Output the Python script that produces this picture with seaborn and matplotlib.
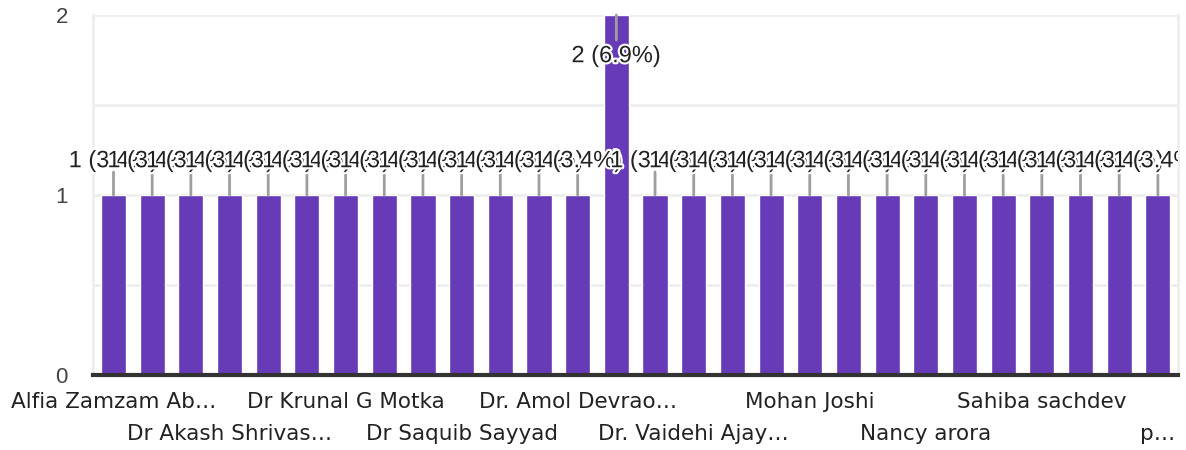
import matplotlib
matplotlib.use("Agg")
import matplotlib.pyplot as plt
import matplotlib.patheffects as pe
from matplotlib.patches import Rectangle
import pandas as pd
import seaborn as sns

sns.set_theme(style="white")
plt.rcParams["font.family"] = ["Liberation Sans", "DejaVu Sans"]

# ---------- data ----------
names = [
    "Alfia Zamzam Ab…", "Respondent 02", "Respondent 03",
    "Dr Akash Shrivas…", "Respondent 05", "Respondent 06",
    "Dr Krunal G Motka", "Respondent 08", "Respondent 09",
    "Dr Saquib Sayyad", "Respondent 11", "Respondent 12",
    "Dr. Amol Devrao…", "Respondent 14", "Respondent 15",
    "Dr. Vaidehi Ajay…", "Respondent 17", "Respondent 18",
    "Mohan Joshi", "Respondent 20", "Respondent 21",
    "Nancy arora", "Respondent 23", "Respondent 24",
    "Sahiba sachdev", "Respondent 26", "Respondent 27",
    "p…",
]
counts = [1] * 13 + [2] + [1] * 14
total = sum(counts)

df = pd.DataFrame({"name": names, "count": counts})

PURPLE = "#673ab7"
GRID = "#eeeeee"

fig = plt.figure(figsize=(11.86, 4.5), dpi=100)
ax = fig.add_axes([93 / 1186, 75 / 450, (1178 - 93) / 1186, 360 / 450])

sns.barplot(data=df, x="name", y="count", color=PURPLE, width=0.65,
            saturation=1, ax=ax, zorder=2)

ax.set_xlim(-0.53, len(names) - 0.48)
ax.set_ylim(0, 2)
ax.set_yticks([0, 1, 2])
ax.set_yticks([0.5, 1.5], minor=True)
ax.grid(True, axis="y", which="both", color=GRID, linewidth=2, zorder=0)
ax.set_xlabel("")
ax.set_ylabel("")

for side in ["left", "right", "top"]:
    ax.spines[side].set_color(GRID)
    ax.spines[side].set_linewidth(2)
ax.spines["top"].set_visible(False)
ax.spines["bottom"].set_color("#333333")
ax.spines["bottom"].set_linewidth(3)
ax.spines["bottom"].set_zorder(5)

ax.tick_params(axis="y", which="both", length=0, pad=18, labelsize=16,
               labelcolor="#444444")
ax.tick_params(axis="x", length=0, labelsize=15.5, labelcolor="#222222")

# every third name is labelled, alternating over two rows
shown = list(range(0, len(names), 3))
ax.set_xticks(shown)
ax.set_xticklabels([names[i] for i in shown], family="DejaVu Sans")
for k, tick in enumerate(ax.xaxis.get_major_ticks()):
    tick.set_pad(12 if k % 2 == 0 else 35)

# value labels, clipped at the right edge of the plot only
clip = Rectangle((0, 0), 1178 / 1186, 1, transform=fig.transFigure)
halo = [pe.withStroke(linewidth=3, foreground="white")]
for i, c in enumerate(counts):
    label = f"{c} ({c / total * 100:.1f}%)"
    if c == max(counts):
        line_end, text_off = -18, -34
    else:
        line_end, text_off = 16.5, 20
    ax.annotate("", xy=(i, c), xytext=(0, line_end),
                textcoords="offset points", annotation_clip=False,
                arrowprops=dict(arrowstyle="-", color="#9e9e9e", lw=2,
                                shrinkA=0, shrinkB=0), zorder=4)
    t = ax.annotate(label, xy=(i, c), xytext=(0, text_off),
                    textcoords="offset points", ha="center", va="baseline",
                    fontsize=17, color="#212121", zorder=6,
                    annotation_clip=False)
    t.set_path_effects(halo)
    t.set_clip_path(clip)

fig.savefig("out.png", dpi=100)
